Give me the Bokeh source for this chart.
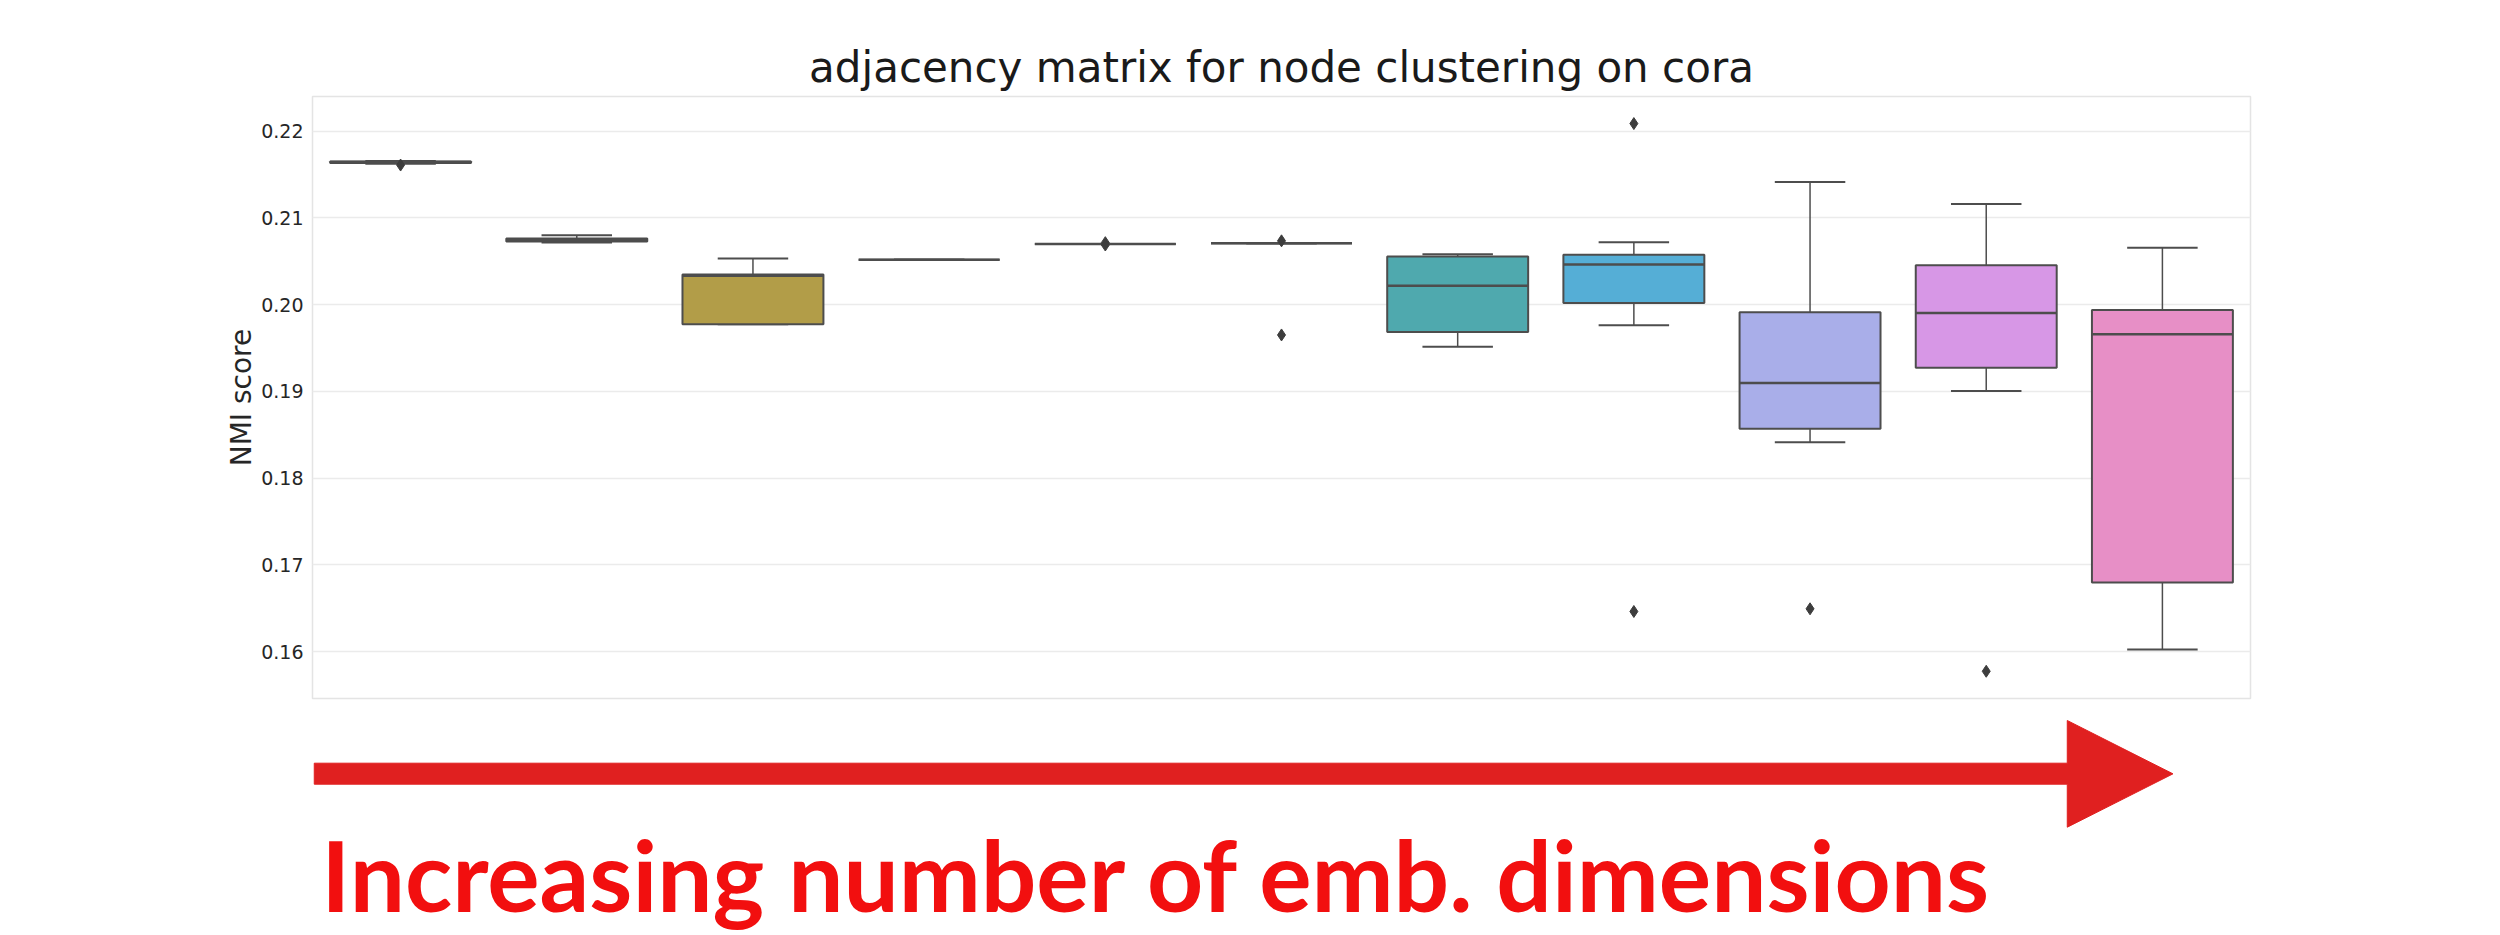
from bokeh.plotting import figure
from bokeh.models import (ColumnDataSource, Range1d, FixedTicker, NumeralTickFormatter,
                          Label)
from bokeh.layouts import column
from bokeh.embed import file_html
from bokeh.resources import INLINE

# box statistics per embedding size
lower_whisker = [0.21624, 0.20716, 0.19774, 0.20517, 0.20701, 0.20709, 0.19514, 0.19762, 0.18414, 0.19004, 0.16026]
q1 = [0.21632, 0.20728, 0.19774, 0.20517, 0.20701, 0.20709, 0.19686, 0.20020, 0.18571, 0.19272, 0.16797]
median = [0.21645, 0.20745, 0.20333, 0.20517, 0.20701, 0.20709, 0.20218, 0.20463, 0.19096, 0.19905, 0.19659]
q3 = [0.21652, 0.20762, 0.20348, 0.20517, 0.20701, 0.20709, 0.20555, 0.20575, 0.19912, 0.20456, 0.19939]
upper_whisker = [0.21655, 0.20801, 0.20532, 0.20517, 0.20701, 0.20709, 0.20582, 0.20720, 0.21414, 0.21161, 0.20655]

# outliers: box index and value
outlier_box = [0, 4, 4, 5, 5, 7, 7, 8, 9]
outlier_val = [0.21610, 0.20715, 0.20688, 0.20736, 0.19651, 0.22088, 0.16463, 0.16494, 0.15774]

colors = ["#c47a80", "#c98a54", "#b29d48", "#9aa24c", "#67ab58", "#4fab8f",
          "#4fa9ae", "#55aed6", "#a9aee9", "#d797e6", "#e78fc6"]

y_ticks = [0.16, 0.17, 0.18, 0.19, 0.20, 0.21, 0.22]

edge = "#4d4d4d"
xs = list(range(len(median)))

src = ColumnDataSource(dict(x=xs, lw=lower_whisker, q1=q1, med=median, q3=q3,
                            uw=upper_whisker, color=colors,
                            left=[i - 0.4 for i in xs], right=[i + 0.4 for i in xs],
                            cl=[i - 0.2 for i in xs], cr=[i + 0.2 for i in xs]))

p = figure(width=2484, height=708, x_range=Range1d(-0.5, len(xs) - 0.5),
           y_range=Range1d(0.1546, 0.2240),
           output_backend="svg", toolbar_location=None,
           min_border_left=312, min_border_right=234, min_border_top=96, min_border_bottom=10,
           title="adjacency matrix for node clustering on cora")

p.title.align = "center"
p.title.text_font = "DejaVu Sans"
p.title.text_font_size = "42px"
p.title.text_font_style = "normal"
p.title.text_color = "#1a1a1a"

# whiskers and caps
p.segment(x0="x", y0="q3", x1="x", y1="uw", source=src, line_color=edge, line_width=1.5)
p.segment(x0="x", y0="lw", x1="x", y1="q1", source=src, line_color=edge, line_width=1.5)
p.segment(x0="cl", y0="uw", x1="cr", y1="uw", source=src, line_color=edge, line_width=2)
p.segment(x0="cl", y0="lw", x1="cr", y1="lw", source=src, line_color=edge, line_width=2)

# boxes
p.vbar(x="x", width=0.8, bottom="q1", top="q3", source=src, fill_color="color",
       line_color=edge, line_width=2)
p.segment(x0="left", y0="med", x1="right", y1="med", source=src, line_color=edge, line_width=2.5)

# outliers
p.scatter(outlier_box, outlier_val, marker="diamond", size=12, fill_color="#3d3d3d",
          line_color="#3d3d3d")

p.xaxis.visible = False
p.xgrid.visible = False
p.ygrid.grid_line_color = "#ebebeb"
p.ygrid.grid_line_width = 1.5
p.outline_line_color = "#e4e4e4"
p.outline_line_width = 1.5

p.yaxis.ticker = FixedTicker(ticks=y_ticks)
p.yaxis.formatter = NumeralTickFormatter(format="0.00")
p.yaxis.axis_line_color = None
p.yaxis.major_tick_line_color = None
p.yaxis.minor_tick_line_color = None
p.yaxis.major_label_text_font = "DejaVu Sans"
p.yaxis.major_label_text_font_size = "19px"
p.yaxis.major_label_text_color = "#262626"
p.yaxis.major_label_standoff = 3
p.yaxis.axis_label = "NMI score"
p.yaxis.axis_label_text_font = "DejaVu Sans"
p.yaxis.axis_label_text_font_size = "28px"
p.yaxis.axis_label_text_font_style = "normal"
p.yaxis.axis_label_text_color = "#262626"
p.yaxis.axis_label_standoff = 0

# annotation strip below the chart: arrow and caption
a = figure(width=2484, height=227, x_range=p.x_range, y_range=Range1d(227, 0),
           output_backend="svg", toolbar_location=None,
           min_border_left=312, min_border_right=234, min_border_top=0, min_border_bottom=0)
a.axis.visible = False
a.grid.visible = False
a.outline_line_color = None

arrow_x = [-0.49, 9.46, 9.46, 10.06, 9.46, 9.46, -0.49]
arrow_y = [54.7, 54.7, 12, 65.35, 118.7, 75.7, 75.7]
a.patch(arrow_x, arrow_y, fill_color="#e02020", line_color="#e02020", line_width=1)

a.add_layout(Label(x=-0.45, y=165, text="Increasing number of emb. dimensions",
                   text_font="Lato", text_font_style="bold", text_font_size="98px",
                   text_color="#f20f0f", text_baseline="alphabetic"))

layout = column(p, a)
open("out.html", "w").write(file_html(layout, INLINE))
